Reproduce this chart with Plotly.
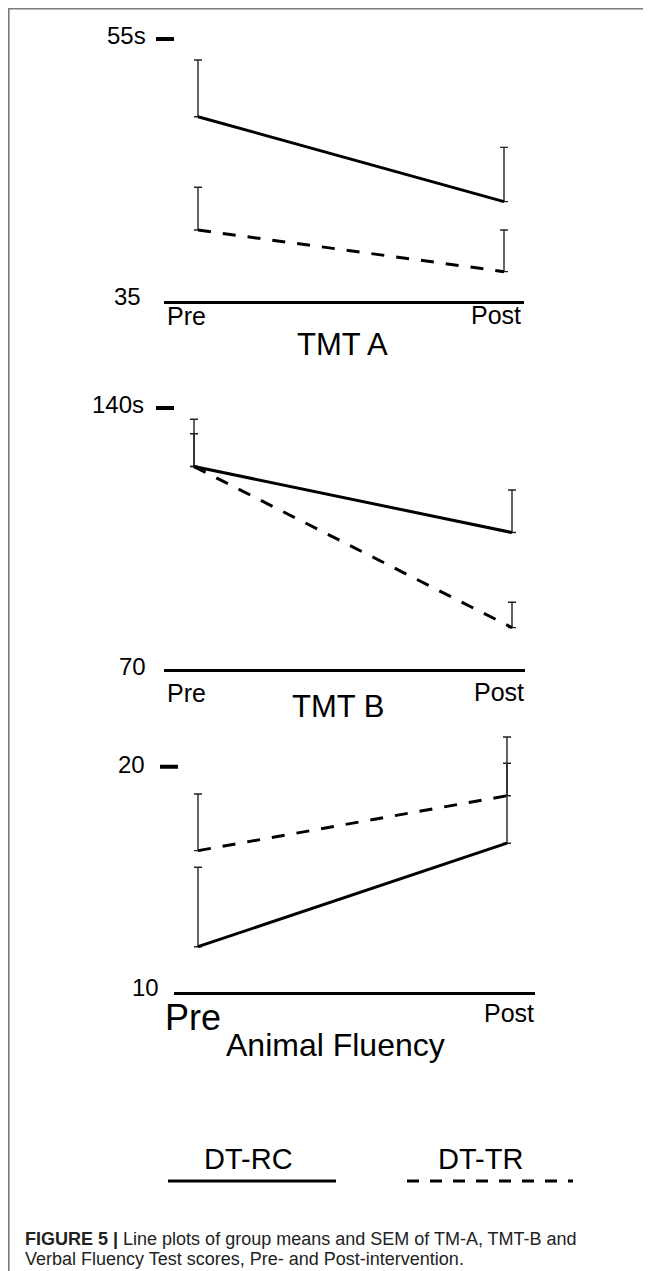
import plotly.graph_objects as go

# ---------------- data ----------------
categories = ["Pre", "Post"]

tmt_a_rc = [49.06, 42.57]
tmt_a_rc_sem = [4.34, 4.15]
tmt_a_tr = [40.40, 37.22]
tmt_a_tr_sem = [3.27, 3.18]

tmt_b_rc = [124.3, 106.6]
tmt_b_rc_sem = [12.7, 11.4]
tmt_b_tr = [124.3, 81.1]
tmt_b_tr_sem = [8.8, 6.8]

af_rc = [12.0, 16.6]
af_rc_sem = [3.53, 3.55]
af_tr = [16.27, 18.71]
af_tr_sem = [2.52, 2.61]

group_names = ["DT-RC", "DT-TR"]
panel_titles = ["TMT A", "TMT B", "Animal Fluency"]
y_low_labels = ["35", "70", "10"]
y_high_labels = ["55s", "140s", "20"]
y_low_vals = [35, 70, 10]
y_high_vals = [55, 140, 20]

caption_1 = "<b>FIGURE 5 |</b> Line plots of group means and SEM of TM-A, TMT-B and"
caption_2 = "Verbal Fluency Test scores, Pre- and Post-intervention."

# ---------------- layout helpers ----------------
# the page body has an 8px margin, so the figure starts at (8, 8)
OFF = 8
WIN_W, WIN_H = 651, 1271
W, H = WIN_W - OFF, WIN_H - OFF
FONT = "Arial, Liberation Sans, sans-serif"


def px(p):
    return (p - OFF) / W


def py(p):
    return 1 - (p - OFF) / H


# pixel geometry per panel (window coordinates)
geom = [
    dict(xl=164, xr=524, xpre=198, xpost=504, yhi=39, ylo=300.7, ytop=25),
    dict(xl=164, xr=525, xpre=194, xpost=512, yhi=408, ylo=669, ytop=398),
    dict(xl=174, xr=535, xpre=198, xpost=507, yhi=766.7, ylo=991.7, ytop=725),
]

series = [
    (tmt_a_rc, tmt_a_rc_sem, tmt_a_tr, tmt_a_tr_sem),
    (tmt_b_rc, tmt_b_rc_sem, tmt_b_tr, tmt_b_tr_sem),
    (af_rc, af_rc_sem, af_tr, af_tr_sem),
]

fig = go.Figure()
layout_axes = {}
shapes = []
annotations = []

DASH = "13px,12px"

for i, (g, (rc, rcs, tr, trs)) in enumerate(zip(geom, series)):
    n = "" if i == 0 else str(i + 1)
    xa, ya = "x" + n, "y" + n
    ppu = (g["ylo"] - g["yhi"]) / (y_high_vals[i] - y_low_vals[i])
    ytop_val = y_high_vals[i] + (g["yhi"] - g["ytop"]) / ppu
    span = g["xpost"] - g["xpre"]
    xr0 = (g["xl"] - g["xpre"]) / span
    xr1 = 1 + (g["xr"] - g["xpost"]) / span

    err_style = dict(type="data", symmetric=False, arrayminus=[0, 0],
                     color="#222222", thickness=1.4, width=4)
    fig.add_trace(go.Scatter(
        x=categories, y=rc, mode="lines", xaxis=xa, yaxis=ya,
        name=group_names[0], showlegend=False,
        line=dict(color="black", width=3),
        error_y=dict(array=rcs, **err_style)))
    fig.add_trace(go.Scatter(
        x=categories, y=tr, mode="lines", xaxis=xa, yaxis=ya,
        name=group_names[1], showlegend=False,
        line=dict(color="black", width=3, dash=DASH),
        error_y=dict(array=trs, **err_style)))

    layout_axes["xaxis" + n] = dict(
        domain=[px(g["xl"]), px(g["xr"])], range=[xr0, xr1], type="category",
        anchor=ya, showline=True, linecolor="black", linewidth=3,
        showticklabels=False, ticks="", showgrid=False, zeroline=False,
        fixedrange=True)
    layout_axes["yaxis" + n] = dict(
        domain=[py(g["ylo"]), py(g["ytop"])],
        range=[y_low_vals[i], ytop_val], anchor=xa, visible=False,
        showgrid=False, zeroline=False, fixedrange=True)

    shapes.append(dict(type="line", xref="paper", yref=ya,
                       x0=px(156 if i < 2 else 160), x1=px(174 if i < 2 else 178),
                       y0=y_high_vals[i], y1=y_high_vals[i],
                       line=dict(color="black", width=4)))

tick_lbl = [
    (148, 4, 143, 4),
    (146, 3, 148, 2),
    (147, 2, 161, 4),
]
for i, (xh, sh, xl, sl) in enumerate(tick_lbl):
    ya = "y" + ("" if i == 0 else str(i + 1))
    annotations.append(dict(text=y_high_labels[i], xref="paper", yref=ya,
                            x=px(xh), y=y_high_vals[i], yshift=sh,
                            xanchor="right", yanchor="middle", showarrow=False,
                            font=dict(size=24, color="black", family=FONT)))
    annotations.append(dict(text=y_low_labels[i], xref="paper", yref=ya,
                            x=px(xl), y=y_low_vals[i], yshift=sl,
                            xanchor="right", yanchor="middle", showarrow=False,
                            font=dict(size=24, color="black", family=FONT)))

cat_lbl = [
    dict(pre=(165, 316, 25), post=(523, 315, 25), title=(342, 345, 31)),
    dict(pre=(165, 693, 25), post=(526, 692, 25), title=(338, 706, 31)),
    dict(pre=(163, 1017, 36), post=(536, 1013, 25), title=(335, 1045, 32)),
]
for i, c in enumerate(cat_lbl):
    annotations.append(dict(text=categories[0], xref="paper", yref="paper",
                            x=px(c["pre"][0]), y=py(c["pre"][1]),
                            xanchor="left", yanchor="middle", showarrow=False,
                            font=dict(size=c["pre"][2], color="black", family=FONT)))
    annotations.append(dict(text=categories[1], xref="paper", yref="paper",
                            x=px(c["post"][0]), y=py(c["post"][1]),
                            xanchor="right", yanchor="middle", showarrow=False,
                            font=dict(size=c["post"][2], color="black", family=FONT)))
    annotations.append(dict(text=panel_titles[i], xref="paper", yref="paper",
                            x=px(c["title"][0]), y=py(c["title"][1]),
                            xanchor="center", yanchor="middle", showarrow=False,
                            font=dict(size=c["title"][2], color="black", family=FONT)))

# custom legend
annotations.append(dict(text=group_names[0], xref="paper", yref="paper",
                        x=px(248), y=py(1159), xanchor="center", yanchor="middle",
                        showarrow=False, font=dict(size=29, color="black", family=FONT)))
annotations.append(dict(text=group_names[1], xref="paper", yref="paper",
                        x=px(480), y=py(1159), xanchor="center", yanchor="middle",
                        showarrow=False, font=dict(size=29, color="black", family=FONT)))
shapes.append(dict(type="line", xref="paper", yref="paper",
                   x0=px(168), x1=px(336), y0=py(1181), y1=py(1181),
                   line=dict(color="black", width=3)))
shapes.append(dict(type="line", xref="paper", yref="paper",
                   x0=px(407), x1=px(573), y0=py(1181), y1=py(1181),
                   line=dict(color="black", width=3, dash="12px,11px")))

# frame (top and left edges)
shapes.append(dict(type="line", xref="paper", yref="paper",
                   x0=0, x1=1, y0=py(8.8), y1=py(8.8),
                   line=dict(color="#7a7a7a", width=1.6)))
shapes.append(dict(type="line", xref="paper", yref="paper",
                   x0=px(8.8), x1=px(8.8), y0=py(8), y1=0,
                   line=dict(color="#7a7a7a", width=1.6)))

# caption
annotations.append(dict(text=caption_1, xref="paper", yref="paper",
                        x=px(23), y=py(1239), xanchor="left", yanchor="middle",
                        showarrow=False, font=dict(size=18, color="#222222", family=FONT)))
annotations.append(dict(text=caption_2, xref="paper", yref="paper",
                        x=px(23), y=py(1259), xanchor="left", yanchor="middle",
                        showarrow=False, font=dict(size=18, color="#222222", family=FONT)))

fig.update_layout(
    width=W, height=H,
    margin=dict(l=0, r=0, t=0, b=0),
    paper_bgcolor="white", plot_bgcolor="white",
    showlegend=False,
    shapes=shapes, annotations=annotations,
    **layout_axes,
)

fig.write_html("out.html", config={"displayModeBar": False})
